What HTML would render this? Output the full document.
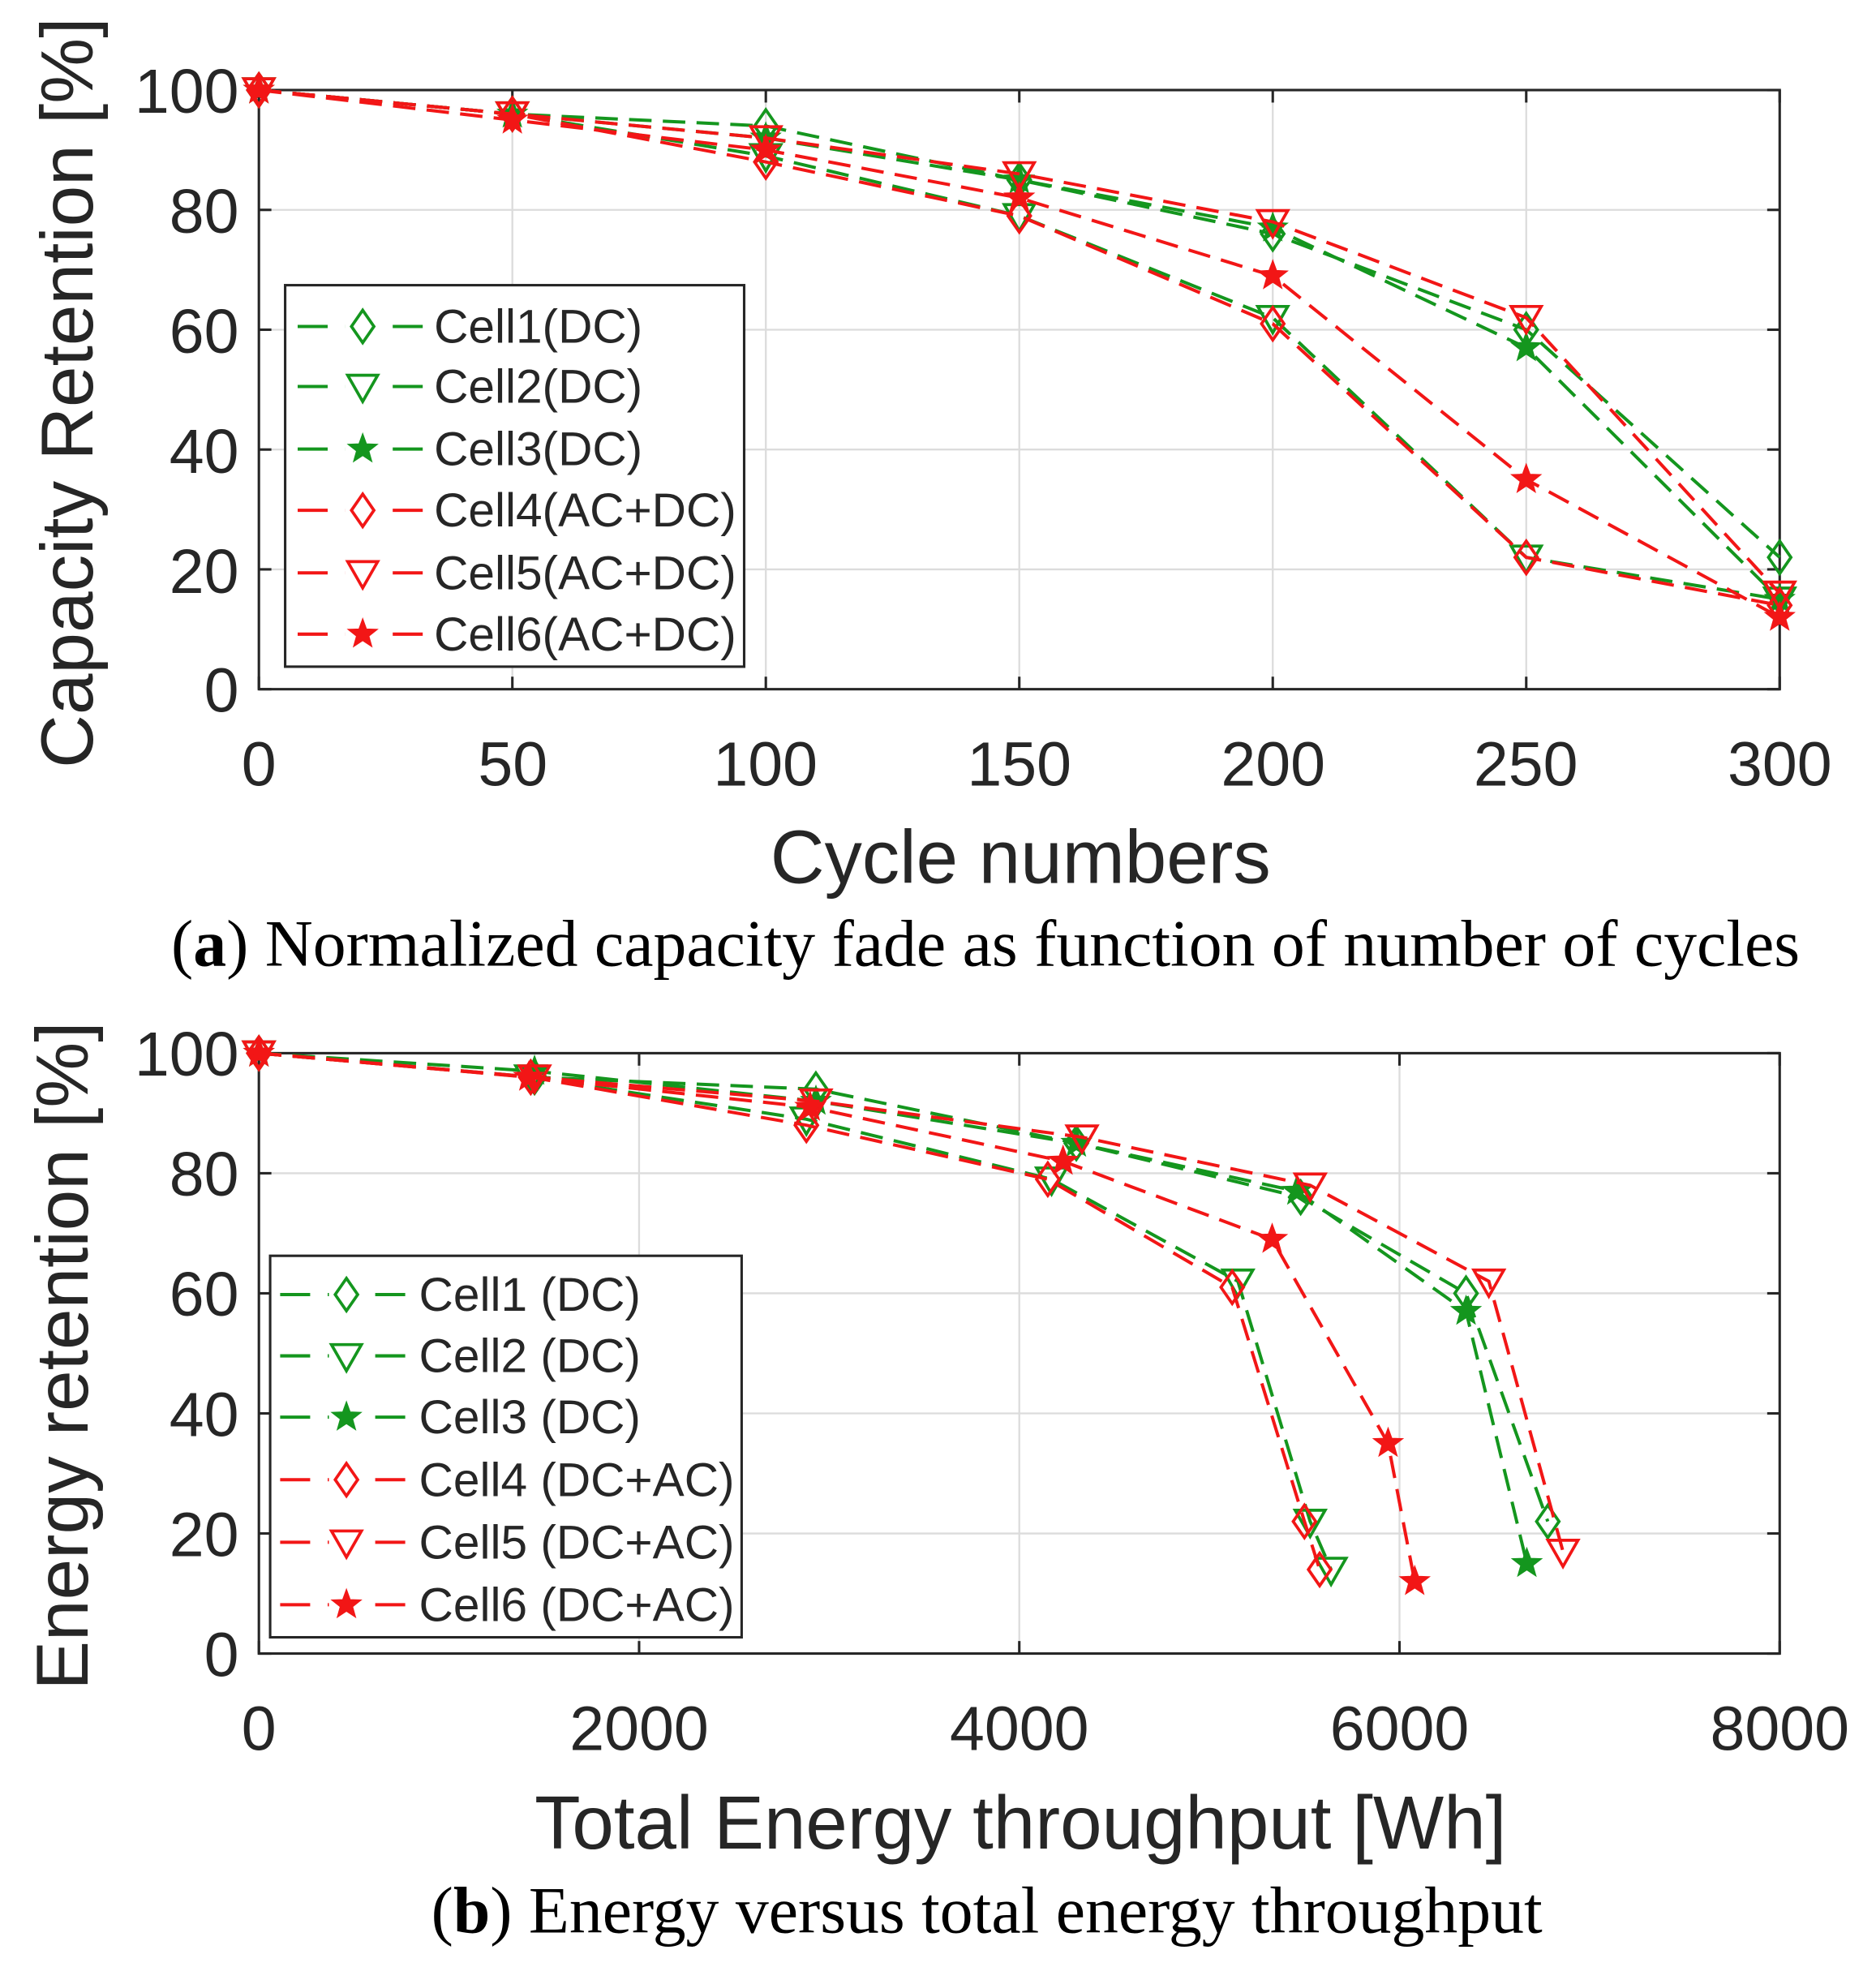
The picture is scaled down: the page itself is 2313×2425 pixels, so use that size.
<!DOCTYPE html>
<html><head><meta charset="utf-8"><style>
html,body{margin:0;padding:0;background:#fff;}
svg{display:block;}
</style></head><body>
<svg id="s" width="2313" height="2425" viewBox="0 0 1500 1572.6" preserveAspectRatio="none" xmlns="http://www.w3.org/2000/svg" font-family="Liberation Sans, sans-serif">
<rect width="1500" height="1572.6" fill="#fff"/>
<g id="g"></g>
<g font-size="50" fill="#262626" text-anchor="end">
<text x="191" y="90">100</text><text x="191" y="186">80</text><text x="191" y="282">60</text><text x="191" y="378">40</text><text x="191" y="474">20</text><text x="191" y="569">0</text>
<text x="191" y="860">100</text><text x="191" y="956">80</text><text x="191" y="1052">60</text><text x="191" y="1148">40</text><text x="191" y="1244">20</text><text x="191" y="1340">0</text>
</g>
<g font-size="50" fill="#262626" text-anchor="middle">
<text x="207" y="628">0</text><text x="410" y="628">50</text><text x="612" y="628">100</text><text x="815" y="628">150</text><text x="1018" y="628">200</text><text x="1220" y="628">250</text><text x="1423" y="628">300</text>
<text x="207" y="1399">0</text><text x="511" y="1399">2000</text><text x="815" y="1399">4000</text><text x="1119" y="1399">6000</text><text x="1423" y="1399">8000</text>
<text x="816" y="706" font-size="60">Cycle numbers</text>
<text x="816" y="1478" font-size="60">Total Energy throughput [Wh]</text>
<text transform="translate(74,314) rotate(-90)" font-size="59">Capacity Retention [%]</text>
<text transform="translate(70,1084) rotate(-90)" font-size="59">Energy retention [%]</text>
</g>
<g font-family="Liberation Serif, serif" font-size="53" fill="#000" text-anchor="middle">
<text x="788" y="772">(<tspan font-weight="bold">a</tspan>) Normalized capacity fade as function of number of cycles</text>
<text x="789" y="1545">(<tspan font-weight="bold">b</tspan>) Energy versus total energy throughput</text>
</g>
</svg>
<script>
const NS="http://www.w3.org/2000/svg";
const g=document.getElementById('g');
function el(t,a,p){const e=document.createElementNS(NS,t);for(const k in a)e.setAttribute(k,a[k]);(p||g).appendChild(e);return e;}
const G="#14961e",R="#f21616";
function marker(type,x,y,c){
 if(type==='d'){el('polygon',{points:`${x},${y-13} ${x+9},${y} ${x},${y+13} ${x-9},${y}`,fill:'none',stroke:c,'stroke-width':2.4});}
 else if(type==='t'){el('polygon',{points:`${x-12},${y-9} ${x+12},${y-9} ${x},${y+12}`,fill:'none',stroke:c,'stroke-width':2.4});}
 else {let p=[];for(let i=0;i<10;i++){const r=i%2?5:12;const a=-Math.PI/2+i*Math.PI/5;p.push((x+r*Math.cos(a)).toFixed(1)+','+(y+r*Math.sin(a)).toFixed(1));}
  el('polygon',{points:p.join(' '),fill:c,stroke:c,'stroke-width':1});}
}
function axes(L,Rr,T,B,xt,yt){
 for(const x of xt) el('line',{x1:x,x2:x,y1:T,y2:B,stroke:'#dcdcdc','stroke-width':1.5});
 for(const y of yt) el('line',{x1:L,x2:Rr,y1:y,y2:y,stroke:'#dcdcdc','stroke-width':1.5});
 el('rect',{x:L,y:T,width:Rr-L,height:B-T,fill:'none',stroke:'#262626','stroke-width':2});
 for(const x of xt){el('line',{x1:x,x2:x,y1:B,y2:B-10,stroke:'#262626','stroke-width':2});el('line',{x1:x,x2:x,y1:T,y2:T+10,stroke:'#262626','stroke-width':2});}
 for(const y of yt){el('line',{x1:L,x2:L+10,y1:y,y2:y,stroke:'#262626','stroke-width':2});el('line',{x1:Rr-10,x2:Rr,y1:y,y2:y,stroke:'#262626','stroke-width':2});}
}
function series(pts,c,m){
 el('polyline',{points:pts.map(p=>p.join(',')).join(' '),fill:'none',stroke:c,'stroke-width':2.6,'stroke-dasharray':'18 9'});
 for(const p of pts) marker(m,p[0],p[1],c);
}
const aL=207,aR=1423,aT=72,aB=551;
axes(aL,aR,aT,aB,[0,1,2,3,4,5,6].map(i=>aL+i*(aR-aL)/6),[0,1,2,3,4,5].map(i=>aT+i*(aB-aT)/5));
const ax=i=>aL+i*(aR-aL)/6, ay=v=>aB-v*(aB-aT)/100;
const A=[
 [G,'d',[100,96,94,85,76,60,22]],
 [G,'t',[100,96,89,79,62,22,15]],
 [G,'s',[100,96,92,85,77,57,15]],
 [R,'d',[100,96,88,79,61,22,14]],
 [R,'t',[100,96,92,86,78,62,16]],
 [R,'s',[100,95,90,82,69,35,12]]];
for(const [c,m,v] of A) series(v.map((y,i)=>[ax(i),ay(y)]),c,m);
const bL=207,bR=1423,bT=842,bB=1322;
axes(bL,bR,bT,bB,[0,1,2,3,4].map(i=>bL+i*(bR-bL)/4),[0,1,2,3,4,5].map(i=>bT+i*(bB-bT)/5));
const bx=w=>bL+w*(bR-bL)/8000, by=v=>bB-v*(bB-bT)/100;
const B=[
 [G,'d',[[0,100],[1450,96],[2930,94],[4300,85],[5480,76],[6350,60],[6780,22]]],
 [G,'t',[[0,100],[1430,96],[2880,89],[4170,79],[5150,62],[5530,22],[5640,14]]],
 [G,'s',[[0,100],[1450,97],[2930,92],[4300,85],[5460,77],[6350,57],[6670,15]]],
 [R,'d',[[0,100],[1430,96],[2880,88],[4150,79],[5120,61],[5500,22],[5580,14]]],
 [R,'t',[[0,100],[1450,96],[2930,92],[4330,86],[5530,78],[6470,62],[6860,17]]],
 [R,'s',[[0,100],[1420,96],[2900,91],[4230,82],[5330,69],[5940,35],[6080,12]]]];
for(const [c,m,v] of B) series(v.map(p=>[bx(p[0]),by(p[1])]),c,m);
function legend(x0,y0,x1,y1,lx1,lx2,tx,ys,labels,sets){
 el('rect',{x:x0,y:y0,width:x1-x0,height:y1-y0,fill:'#fff',stroke:'#262626','stroke-width':2});
 ys.forEach((y,i)=>{const [c,m]=sets[i];
  el('line',{x1:lx1,x2:lx2,y1:y,y2:y,stroke:c,'stroke-width':2.6,'stroke-dasharray':'24 14'});
  el('rect',{x:(lx1+lx2)/2-14,y:y-14,width:28,height:28,fill:'#fff'});
  marker(m,(lx1+lx2)/2,y,c);
  const t=el('text',{x:tx,y:y+13,'font-size':38,fill:'#262626'});t.textContent=labels[i];});
}
legend(228,228,595,533,238,342,347,[261,309,359,408,458,507],
 ['Cell1(DC)','Cell2(DC)','Cell3(DC)','Cell4(AC+DC)','Cell5(AC+DC)','Cell6(AC+DC)'],A);
legend(216,1004,593,1309,224,330,335,[1035,1084,1133,1183,1233,1283],
 ['Cell1 (DC)','Cell2 (DC)','Cell3 (DC)','Cell4 (DC+AC)','Cell5 (DC+AC)','Cell6 (DC+AC)'],B);
</script>
</body></html>
